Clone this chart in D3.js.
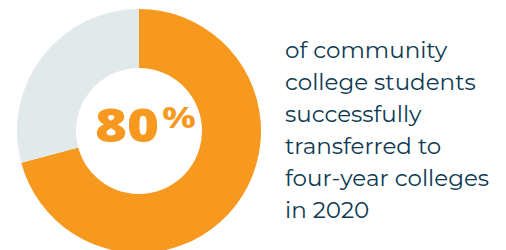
<!DOCTYPE html>
<html>
<head>
<meta charset="utf-8">
<script src="https://cdn.jsdelivr.net/npm/d3@7"></script>
<style>
  body { margin: 0; background: #fff; }
  svg { display: block; }
</style>
</head>
<body>
<svg id="chart"></svg>
<script>
// share of students shown in the ring (arc as drawn in the source)
var segments = ["transferred", "other"];
var values = [70.8, 29.2];
var colors = ["#F7991E", "#E1E9EB"];
var bigLabel = "80";
var bigSuffix = "%";
var captionLines = ["of community", "college students", "successfully", "transferred to", "four-year colleges", "in 2020"];

var width = 506, height = 250;
var svg = d3.select("#chart")
    .attr("width", width)
    .attr("height", height);

var cx = 139, cy = 131, outerR = 122, innerR = 63;

var pie = d3.pie().sort(null).value(function(d) { return d; });
var arc = d3.arc().innerRadius(innerR).outerRadius(outerR);

var ring = svg.append("g").attr("transform", "translate(" + cx + "," + cy + ")");
ring.selectAll("path")
    .data(pie(values))
    .enter().append("path")
    .attr("d", arc)
    .attr("fill", function(d, i) { return colors[i]; });

// big number in the hole, % sits raised like a superscript
// fallback font is narrower than the original, so widen it a bit
ring.append("text")
    .attr("transform", "translate(-44,11) scale(1.19,1)")
    .attr("font-family", "'Open Sans', sans-serif")
    .attr("font-weight", 800)
    .attr("font-size", 46)
    .attr("fill", colors[0])
    .text(bigLabel);
ring.append("text")
    .attr("transform", "translate(23,-3) scale(1.3,1)")
    .attr("font-family", "'Open Sans', sans-serif")
    .attr("font-weight", 700)
    .attr("font-size", 29)
    .attr("fill", colors[0])
    .text(bigSuffix);

// caption on the right
var cap = svg.append("text")
    .attr("font-family", "Montserrat, 'Open Sans', sans-serif")
    .attr("font-size", 23)
    .attr("fill", "#0E3A52");
cap.selectAll("tspan")
    .data(captionLines)
    .enter().append("tspan")
    .attr("x", 285)
    .attr("y", function(d, i) { return 58.3 + i * 32; })
    .text(function(d) { return d; });
</script>
</body>
</html>
